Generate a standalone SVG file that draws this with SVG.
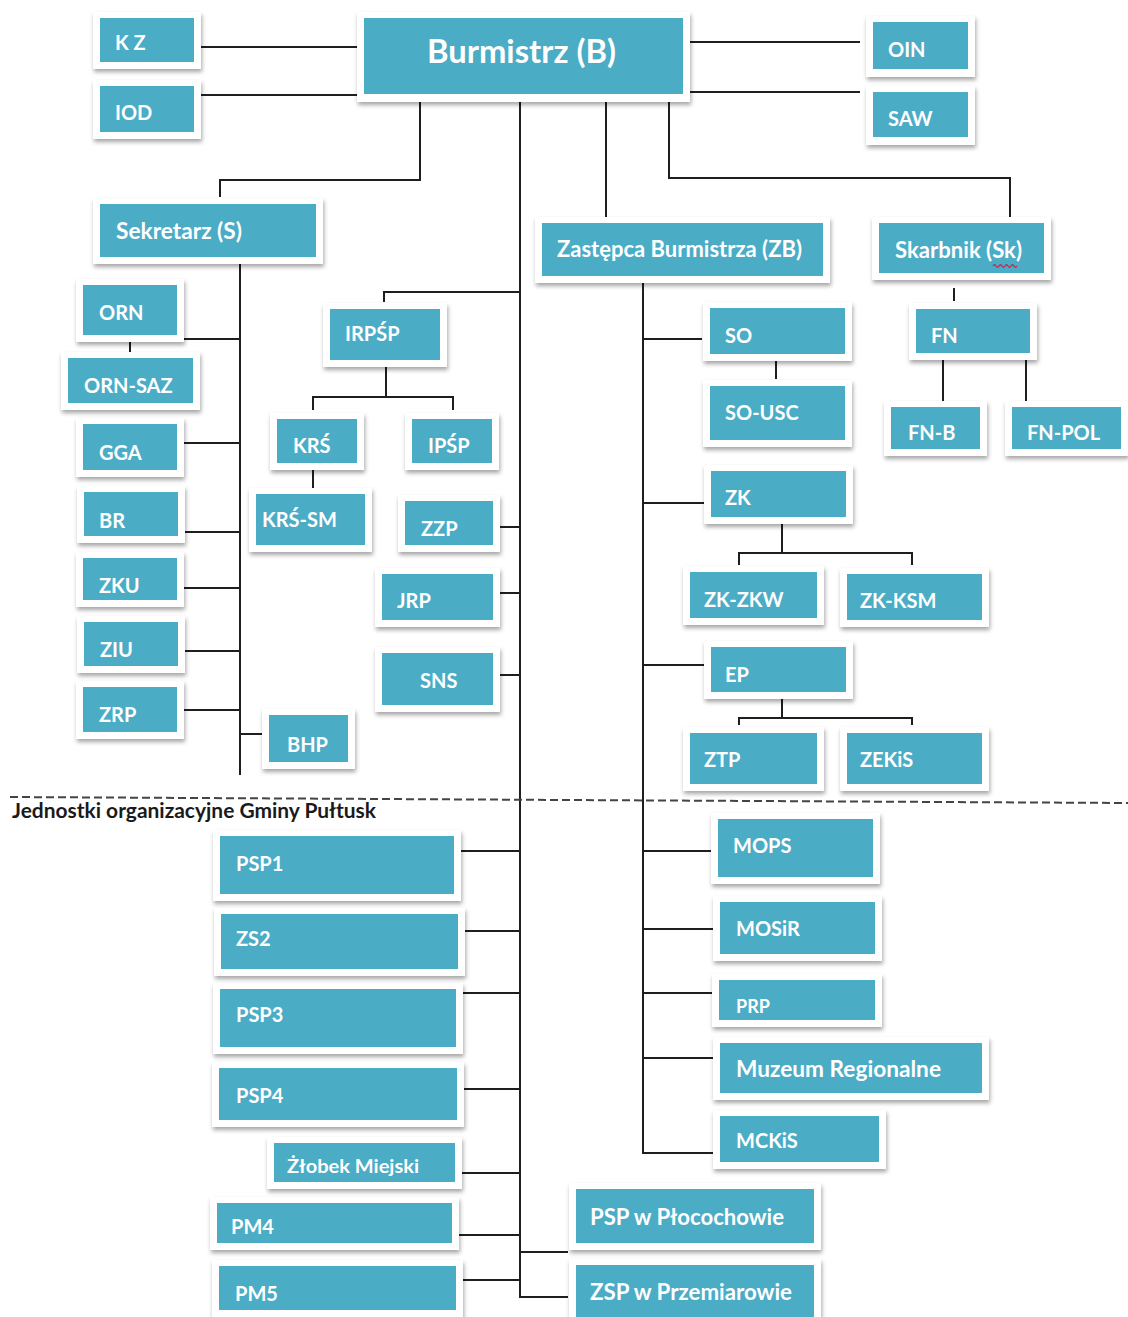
<svg xmlns="http://www.w3.org/2000/svg" width="1128" height="1317" viewBox="0 0 1128 1317">
<defs>
<filter id="sh" x="-10%" y="-10%" width="130%" height="140%">
<feDropShadow dx="1" dy="3" stdDeviation="2" flood-color="#000" flood-opacity="0.35"/>
</filter>
</defs>
<style>
.card{fill:#fff;filter:url(#sh)}
.box{fill:#4BACC6}
.lbl{font-family:Lato,"Open Sans","DejaVu Sans",sans-serif;font-weight:700;font-size:20px;fill:#fff}
.lg{font-size:22px}
.conn path{fill:none;stroke:#1e1e1e;stroke-width:2}
.cap{font-family:Lato,"Open Sans","DejaVu Sans",sans-serif;font-weight:700;font-size:20px;fill:#1a1a1a}
</style>
<rect width="1128" height="1317" fill="#fff"/>

<g class="conn" id="connectors">
<path d="M197,47 H357"/>
<path d="M199,95 H357"/>
<path d="M690,42 H860"/>
<path d="M690,92 H860"/>
<path d="M420,102 V180 H220 V197"/>
<path d="M520,102 V1297 H568"/>
<path d="M606,102 V220"/>
<path d="M669,102 V178 H1010 V220"/>
<path d="M240,264 V775"/>
<path d="M184,339 H240"/>
<path d="M130,342 V357"/>
<path d="M184,443 H240"/>
<path d="M185,532 H240"/>
<path d="M184,588 H240"/>
<path d="M184,651 H240"/>
<path d="M184,710 H240"/>
<path d="M240,734 H262"/>
<path d="M520,292 H384 V302"/>
<path d="M386,367 V397"/>
<path d="M313,410 V397 H453 V410"/>
<path d="M313,470 V488"/>
<path d="M500,527 H520"/>
<path d="M500,593 H520"/>
<path d="M500,675 H520"/>
<path d="M643,283 V1153 H713"/>
<path d="M643,339 H702"/>
<path d="M776,361 V379"/>
<path d="M954,288 V301"/>
<path d="M943,360 V405"/>
<path d="M1026,360 V405"/>
<path d="M643,503 H704"/>
<path d="M782,524 V553"/>
<path d="M739,565 V553 H912 V565"/>
<path d="M643,665 H704"/>
<path d="M782,699 V718"/>
<path d="M739,725 V718 H912 V725"/>
<path d="M461,851 H520"/>
<path d="M465,931 H520"/>
<path d="M463,993 H520"/>
<path d="M464,1089 H520"/>
<path d="M462,1173 H520"/>
<path d="M459,1235 H520"/>
<path d="M463,1280 H520"/>
<path d="M520,1252 H568"/>
<path d="M643,851 H711"/>
<path d="M643,929 H713"/>
<path d="M643,993 H712"/>
<path d="M643,1058 H713"/>
</g>

<g id="divider">
<line x1="10" y1="797" x2="1128" y2="803" stroke="#444" stroke-width="2" stroke-dasharray="8,4"/>
<text class="cap" x="12" y="818" textLength="364" lengthAdjust="spacingAndGlyphs">Jednostki organizacyjne Gminy Pułtusk</text>
</g>

<g id="n-kz"><rect class="card" x="93" y="12" width="108" height="57"/><rect class="box" x="100" y="18" width="94" height="44"/><text class="lbl" x="115" y="50">K Z</text></g>
<g id="n-iod"><rect class="card" x="93" y="80" width="108" height="59"/><rect class="box" x="100" y="86" width="94" height="46"/><text class="lbl" x="115" y="120">IOD</text></g>
<g id="n-burmistrz"><rect class="card" x="357" y="12" width="333" height="90"/><rect class="box" x="364" y="18" width="319" height="76"/><text class="lbl" x="427" y="63" style="font-size:32px" textLength="189" lengthAdjust="spacingAndGlyphs">Burmistrz (B)</text></g>
<g id="n-oin"><rect class="card" x="866" y="16" width="109" height="61"/><rect class="box" x="873" y="22" width="95" height="47"/><text class="lbl" x="888" y="57">OIN</text></g>
<g id="n-saw"><rect class="card" x="866" y="86" width="109" height="59"/><rect class="box" x="873" y="92" width="95" height="45"/><text class="lbl" x="888" y="126">SAW</text></g>
<g id="n-sekretarz"><rect class="card" x="93" y="198" width="230" height="66"/><rect class="box" x="100" y="204" width="216" height="53"/><text class="lbl lg" x="116" y="239" textLength="126" lengthAdjust="spacingAndGlyphs">Sekretarz (S)</text></g>
<g id="n-zastepca"><rect class="card" x="535" y="217" width="295" height="66"/><rect class="box" x="542" y="223" width="281" height="53"/><text class="lbl lg" x="557" y="257" textLength="245" lengthAdjust="spacingAndGlyphs">Zastępca Burmistrza (ZB)</text></g>
<g id="n-skarbnik"><rect class="card" x="872" y="217" width="179" height="63"/><rect class="box" x="879" y="223" width="165" height="50"/><text class="lbl lg" x="895" y="258" textLength="127" lengthAdjust="spacingAndGlyphs">Skarbnik (Sk)</text><path d="M993,266 q1.5,-2.5 3,0 t3,0 t3,0 t3,0 t3,0 t3,0 t3,0 t3,0" fill="none" stroke="#b0305a" stroke-width="1.3"/></g>

<g id="n-orn"><rect class="card" x="76" y="279" width="108" height="63"/><rect class="box" x="83" y="285" width="94" height="50"/><text class="lbl" x="99" y="320">ORN</text></g>
<g id="n-orn-saz"><rect class="card" x="61" y="352" width="139" height="58"/><rect class="box" x="68" y="358" width="125" height="45"/><text class="lbl" x="84" y="393">ORN-SAZ</text></g>
<g id="n-gga"><rect class="card" x="76" y="418" width="108" height="59"/><rect class="box" x="83" y="424" width="94" height="46"/><text class="lbl" x="99" y="460">GGA</text></g>
<g id="n-br"><rect class="card" x="77" y="486" width="108" height="57"/><rect class="box" x="84" y="492" width="94" height="44"/><text class="lbl" x="99" y="528">BR</text></g>
<g id="n-zku"><rect class="card" x="76" y="552" width="108" height="55"/><rect class="box" x="83" y="558" width="94" height="42"/><text class="lbl" x="99" y="593">ZKU</text></g>
<g id="n-ziu"><rect class="card" x="77" y="616" width="108" height="57"/><rect class="box" x="84" y="622" width="94" height="44"/><text class="lbl" x="100" y="657">ZIU</text></g>
<g id="n-zrp"><rect class="card" x="76" y="681" width="108" height="58"/><rect class="box" x="83" y="687" width="94" height="45"/><text class="lbl" x="99" y="722">ZRP</text></g>
<g id="n-bhp"><rect class="card" x="262" y="709" width="93" height="60"/><rect class="box" x="269" y="715" width="79" height="47"/><text class="lbl" x="287" y="752">BHP</text></g>

<g id="n-irpsp"><rect class="card" x="323" y="303" width="124" height="64"/><rect class="box" x="330" y="309" width="110" height="51"/><text class="lbl" x="345" y="341">IRPŚP</text></g>
<g id="n-krs"><rect class="card" x="270" y="413" width="94" height="57"/><rect class="box" x="277" y="419" width="80" height="44"/><text class="lbl" x="293" y="453">KRŚ</text></g>
<g id="n-krs-sm"><rect class="card" x="249" y="488" width="123" height="64"/><rect class="box" x="256" y="494" width="109" height="51"/><text class="lbl" x="262" y="527">KRŚ-SM</text></g>
<g id="n-ipsp"><rect class="card" x="405" y="413" width="94" height="57"/><rect class="box" x="412" y="419" width="80" height="44"/><text class="lbl" x="428" y="453">IPŚP</text></g>
<g id="n-zzp"><rect class="card" x="398" y="495" width="102" height="57"/><rect class="box" x="405" y="501" width="88" height="44"/><text class="lbl" x="421" y="536">ZZP</text></g>
<g id="n-jrp"><rect class="card" x="375" y="568" width="125" height="59"/><rect class="box" x="382" y="574" width="111" height="46"/><text class="lbl" x="397" y="608">JRP</text></g>
<g id="n-sns"><rect class="card" x="375" y="647" width="125" height="65"/><rect class="box" x="382" y="653" width="111" height="52"/><text class="lbl" x="420" y="688">SNS</text></g>

<g id="n-so"><rect class="card" x="703" y="302" width="149" height="59"/><rect class="box" x="710" y="308" width="135" height="46"/><text class="lbl" x="725" y="343">SO</text></g>
<g id="n-so-usc"><rect class="card" x="703" y="380" width="149" height="67"/><rect class="box" x="710" y="386" width="135" height="54"/><text class="lbl" x="725" y="420">SO-USC</text></g>
<g id="n-fn"><rect class="card" x="909" y="303" width="128" height="57"/><rect class="box" x="916" y="309" width="114" height="44"/><text class="lbl" x="931" y="343">FN</text></g>
<g id="n-fn-b"><rect class="card" x="884" y="401" width="103" height="55"/><rect class="box" x="891" y="407" width="89" height="42"/><text class="lbl" x="908" y="440">FN-B</text></g>
<g id="n-fn-pol"><rect class="card" x="1005" y="401" width="123" height="55"/><rect class="box" x="1012" y="407" width="109" height="42"/><text class="lbl" x="1027" y="440">FN-POL</text></g>
<g id="n-zk"><rect class="card" x="704" y="465" width="149" height="59"/><rect class="box" x="711" y="471" width="135" height="46"/><text class="lbl" x="725" y="505">ZK</text></g>
<g id="n-zk-zkw"><rect class="card" x="683" y="566" width="141" height="59"/><rect class="box" x="690" y="572" width="127" height="46"/><text class="lbl" x="704" y="607">ZK-ZKW</text></g>
<g id="n-zk-ksm"><rect class="card" x="840" y="568" width="149" height="59"/><rect class="box" x="847" y="574" width="135" height="46"/><text class="lbl" x="860" y="608">ZK-KSM</text></g>
<g id="n-ep"><rect class="card" x="704" y="641" width="149" height="58"/><rect class="box" x="711" y="647" width="135" height="45"/><text class="lbl" x="725" y="682">EP</text></g>
<g id="n-ztp"><rect class="card" x="683" y="727" width="141" height="64"/><rect class="box" x="690" y="733" width="127" height="51"/><text class="lbl" x="704" y="767">ZTP</text></g>
<g id="n-zekis"><rect class="card" x="840" y="727" width="149" height="64"/><rect class="box" x="847" y="733" width="135" height="51"/><text class="lbl" x="860" y="767">ZEKiS</text></g>

<g id="n-psp1"><rect class="card" x="213" y="830" width="248" height="71"/><rect class="box" x="220" y="836" width="234" height="58"/><text class="lbl" x="236" y="871">PSP1</text></g>
<g id="n-zs2"><rect class="card" x="214" y="908" width="251" height="68"/><rect class="box" x="221" y="914" width="237" height="55"/><text class="lbl" x="236" y="946">ZS2</text></g>
<g id="n-psp3"><rect class="card" x="213" y="983" width="250" height="71"/><rect class="box" x="220" y="989" width="236" height="58"/><text class="lbl" x="236" y="1022">PSP3</text></g>
<g id="n-psp4"><rect class="card" x="212" y="1062" width="252" height="65"/><rect class="box" x="219" y="1068" width="238" height="52"/><text class="lbl" x="236" y="1103">PSP4</text></g>
<g id="n-zlobek"><rect class="card" x="267" y="1137" width="195" height="52"/><rect class="box" x="274" y="1143" width="181" height="39"/><text class="lbl" x="287" y="1173" style="font-size:19px" textLength="132" lengthAdjust="spacingAndGlyphs">Żłobek Miejski</text></g>
<g id="n-pm4"><rect class="card" x="210" y="1197" width="249" height="53"/><rect class="box" x="217" y="1203" width="235" height="40"/><text class="lbl" x="231" y="1234">PM4</text></g>
<g id="n-pm5"><rect class="card" x="212" y="1260" width="251" height="60"/><rect class="box" x="219" y="1266" width="237" height="44"/><text class="lbl" x="235" y="1301">PM5</text></g>

<g id="n-mops"><rect class="card" x="711" y="813" width="169" height="71"/><rect class="box" x="718" y="819" width="155" height="58"/><text class="lbl" x="733" y="853">MOPS</text></g>
<g id="n-mosir"><rect class="card" x="713" y="896" width="169" height="65"/><rect class="box" x="720" y="902" width="155" height="52"/><text class="lbl" x="736" y="936">MOSiR</text></g>
<g id="n-prp"><rect class="card" x="712" y="974" width="170" height="53"/><rect class="box" x="719" y="980" width="156" height="40"/><text class="lbl" x="736" y="1013" style="font-size:18px">PRP</text></g>
<g id="n-muzeum"><rect class="card" x="713" y="1037" width="276" height="63"/><rect class="box" x="720" y="1043" width="262" height="50"/><text class="lbl lg" x="736" y="1077" textLength="205" lengthAdjust="spacingAndGlyphs">Muzeum Regionalne</text></g>
<g id="n-mckis"><rect class="card" x="713" y="1110" width="173" height="59"/><rect class="box" x="720" y="1116" width="159" height="46"/><text class="lbl" x="736" y="1148">MCKiS</text></g>
<g id="n-psp-plocochowo"><rect class="card" x="569" y="1183" width="252" height="67"/><rect class="box" x="576" y="1189" width="238" height="54"/><text class="lbl lg" x="590" y="1225" textLength="194" lengthAdjust="spacingAndGlyphs">PSP w Płocochowie</text></g>
<g id="n-zsp-przemiarowo"><rect class="card" x="569" y="1259" width="252" height="62"/><rect class="box" x="576" y="1265" width="238" height="52"/><text class="lbl lg" x="590" y="1300" textLength="202" lengthAdjust="spacingAndGlyphs">ZSP w Przemiarowie</text></g>
</svg>
